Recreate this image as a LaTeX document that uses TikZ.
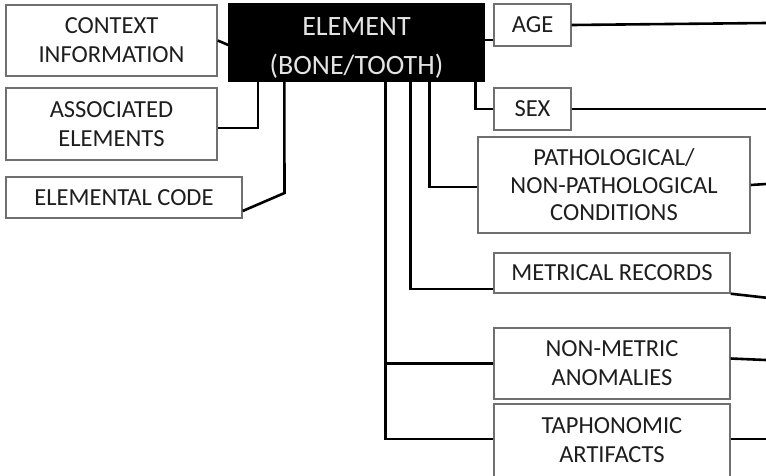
\documentclass[tikz,border=0pt]{standalone}
\usepackage{fontspec}
\setmainfont{Carlito}
\definecolor{txt}{HTML}{1E1E1E}
\definecolor{edge}{HTML}{707070}
\definecolor{lighttxt}{HTML}{E4E4E4}
\begin{document}
\begin{tikzpicture}[x=1pt,y=-1pt,
  box/.style={draw=edge,line width=1.4pt,fill=white,text=txt,align=center,
    font=\fontsize{24.5}{29}\selectfont,inner sep=0pt},
  blackbox/.style={draw=black,fill=black,inner sep=0pt},
  blacktext/.style={text=lighttxt,align=center,
    font=\fontsize{28}{39}\selectfont,inner sep=0pt},
  conn/.style={line width=2.6pt,black}]
\useasboundingbox (0,0) rectangle (766,475);
\coordinate (redge) at (766,0);
\node[blackbox,minimum width=256pt,minimum height=78pt] (elem) at (356.5,42) {};
\node[blacktext] (elemtext) at ([yshift=-6pt]elem.center) {ELEMENT\\(BONE/TOOTH)};
\node[box,minimum width=211pt,minimum height=71pt] (ctx) at (111.5,40.5) {CONTEXT\\INFORMATION};
\node[box,minimum width=211pt,minimum height=72pt] (assoc) at (111.5,124) {ASSOCIATED\\ELEMENTS};
\node[box,minimum width=236pt,minimum height=41pt] (code) at (124,197.5) {ELEMENTAL CODE};
\node[box,minimum width=77pt,minimum height=42pt] (age) at (532.5,25) {AGE};
\node[box,minimum width=77pt,minimum height=42pt] (sex) at (532.5,109) {SEX};
\node[box,minimum width=272pt,minimum height=96pt,font=\fontsize{24.5}{27.5}\selectfont] (path) at (614,185) {PATHOLOGICAL/\\NON-PATHOLOGICAL\\CONDITIONS};
\node[box,minimum width=236pt,minimum height=40pt] (metr) at (612,273) {METRICAL RECORDS};
\node[box,minimum width=236pt,minimum height=71pt] (nonm) at (612,363.5) {NON-METRIC\\ANOMALIES};
\node[box,minimum width=236pt,minimum height=73pt] (taph) at (612,440.5) {TAPHONOMIC\\ARTIFACTS};
\coordinate (codebend) at (284.5,193);
\coordinate (trunk) at ([xshift=-99pt]elem.south east);
% left side
\draw[conn] (ctx.east) -- ([yshift=-3pt]elem.west);
\draw[conn] ([xshift=29.5pt]elem.south west) |- ([yshift=-4pt]assoc.east);
\draw[conn] ([xshift=56pt]elem.south west) -- (codebend) -- ([yshift=-13.5pt]code.east);
% right side
\draw[conn] ([yshift=-15pt]age.west -| elem.east) -- ([yshift=-15pt]age.west);
\draw[conn] (age.east) -- ([yshift=2pt]age.east -| redge);
\draw[conn] ([xshift=-9.5pt]elem.south east) |- (sex.west);
\draw[conn] (sex.east) -- (sex.east -| redge);
\draw[conn] ([xshift=-55pt]elem.south east) |- ([yshift=-2pt]path.west);
\draw[conn] (path.east) -- ([yshift=1pt]path.east -| redge);
\draw[conn] ([xshift=-74pt]elem.south east) |- ([yshift=-16pt]metr.west);
\draw[conn] (metr.south east) -- ([yshift=-4pt]metr.south east -| redge);
\draw[conn] (trunk) |- ([yshift=1.5pt]taph.west);
\draw[conn] (nonm.west) -- (nonm.west -| trunk);
\draw[conn] ([yshift=5pt]nonm.east) -- ([yshift=3.5pt]nonm.east -| redge);
\draw[conn] ([yshift=1.5pt]taph.east) -- ([yshift=1.5pt]taph.east -| redge);
\end{tikzpicture}
\end{document}
